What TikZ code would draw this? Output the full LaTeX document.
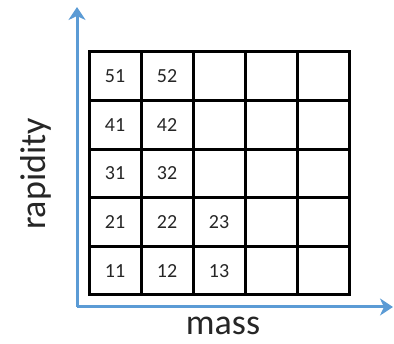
\documentclass[tikz,border=0pt]{standalone}
\usepackage{fontspec}
\setmainfont{Carlito}
\usetikzlibrary{arrows.meta}
\definecolor{textcol}{HTML}{262626}
\definecolor{axiscol}{HTML}{5B9BD5}

\begin{document}
\begin{tikzpicture}[x=1pt,y=1pt,
	cell/.style={draw=black,line width=3pt,minimum width=52pt,minimum height=48.6pt,inner sep=0pt,
		font=\fontsize{20}{20}\selectfont,text=textcol},
	axis/.style={draw=axiscol,line width=3pt,-{Stealth[length=13pt,width=17pt,inset=4pt]}},
	axislabel/.style={font=\fontsize{36}{36}\selectfont,text=textcol}]
\useasboundingbox (0,0) rectangle (394,344);
% grid of bins
\foreach \row/\labels in {1/{11,12,13,,},2/{21,22,23,,},3/{31,32,,,},4/{41,42,,,},5/{51,52,,,}}{
	\foreach \lab [count=\col] in \labels {
		\node[cell] (c-\row-\col) at ({115+52*(\col-1)},{73.3+48.6*(\row-1)}) {\lab};
	}
}
% axes
\coordinate (origin) at (77,37);
\coordinate (ytip) at (77,337);
\coordinate (xtip) at (393,37);
\draw[axis] (origin) -- (ytip);
\draw[axis] (origin) -- (xtip);
\node[axislabel] (xlab) at (223,18) {mass};
\node[axislabel,rotate=90] (ylab) at (36,170) {rapidity};
\end{tikzpicture}
\end{document}
